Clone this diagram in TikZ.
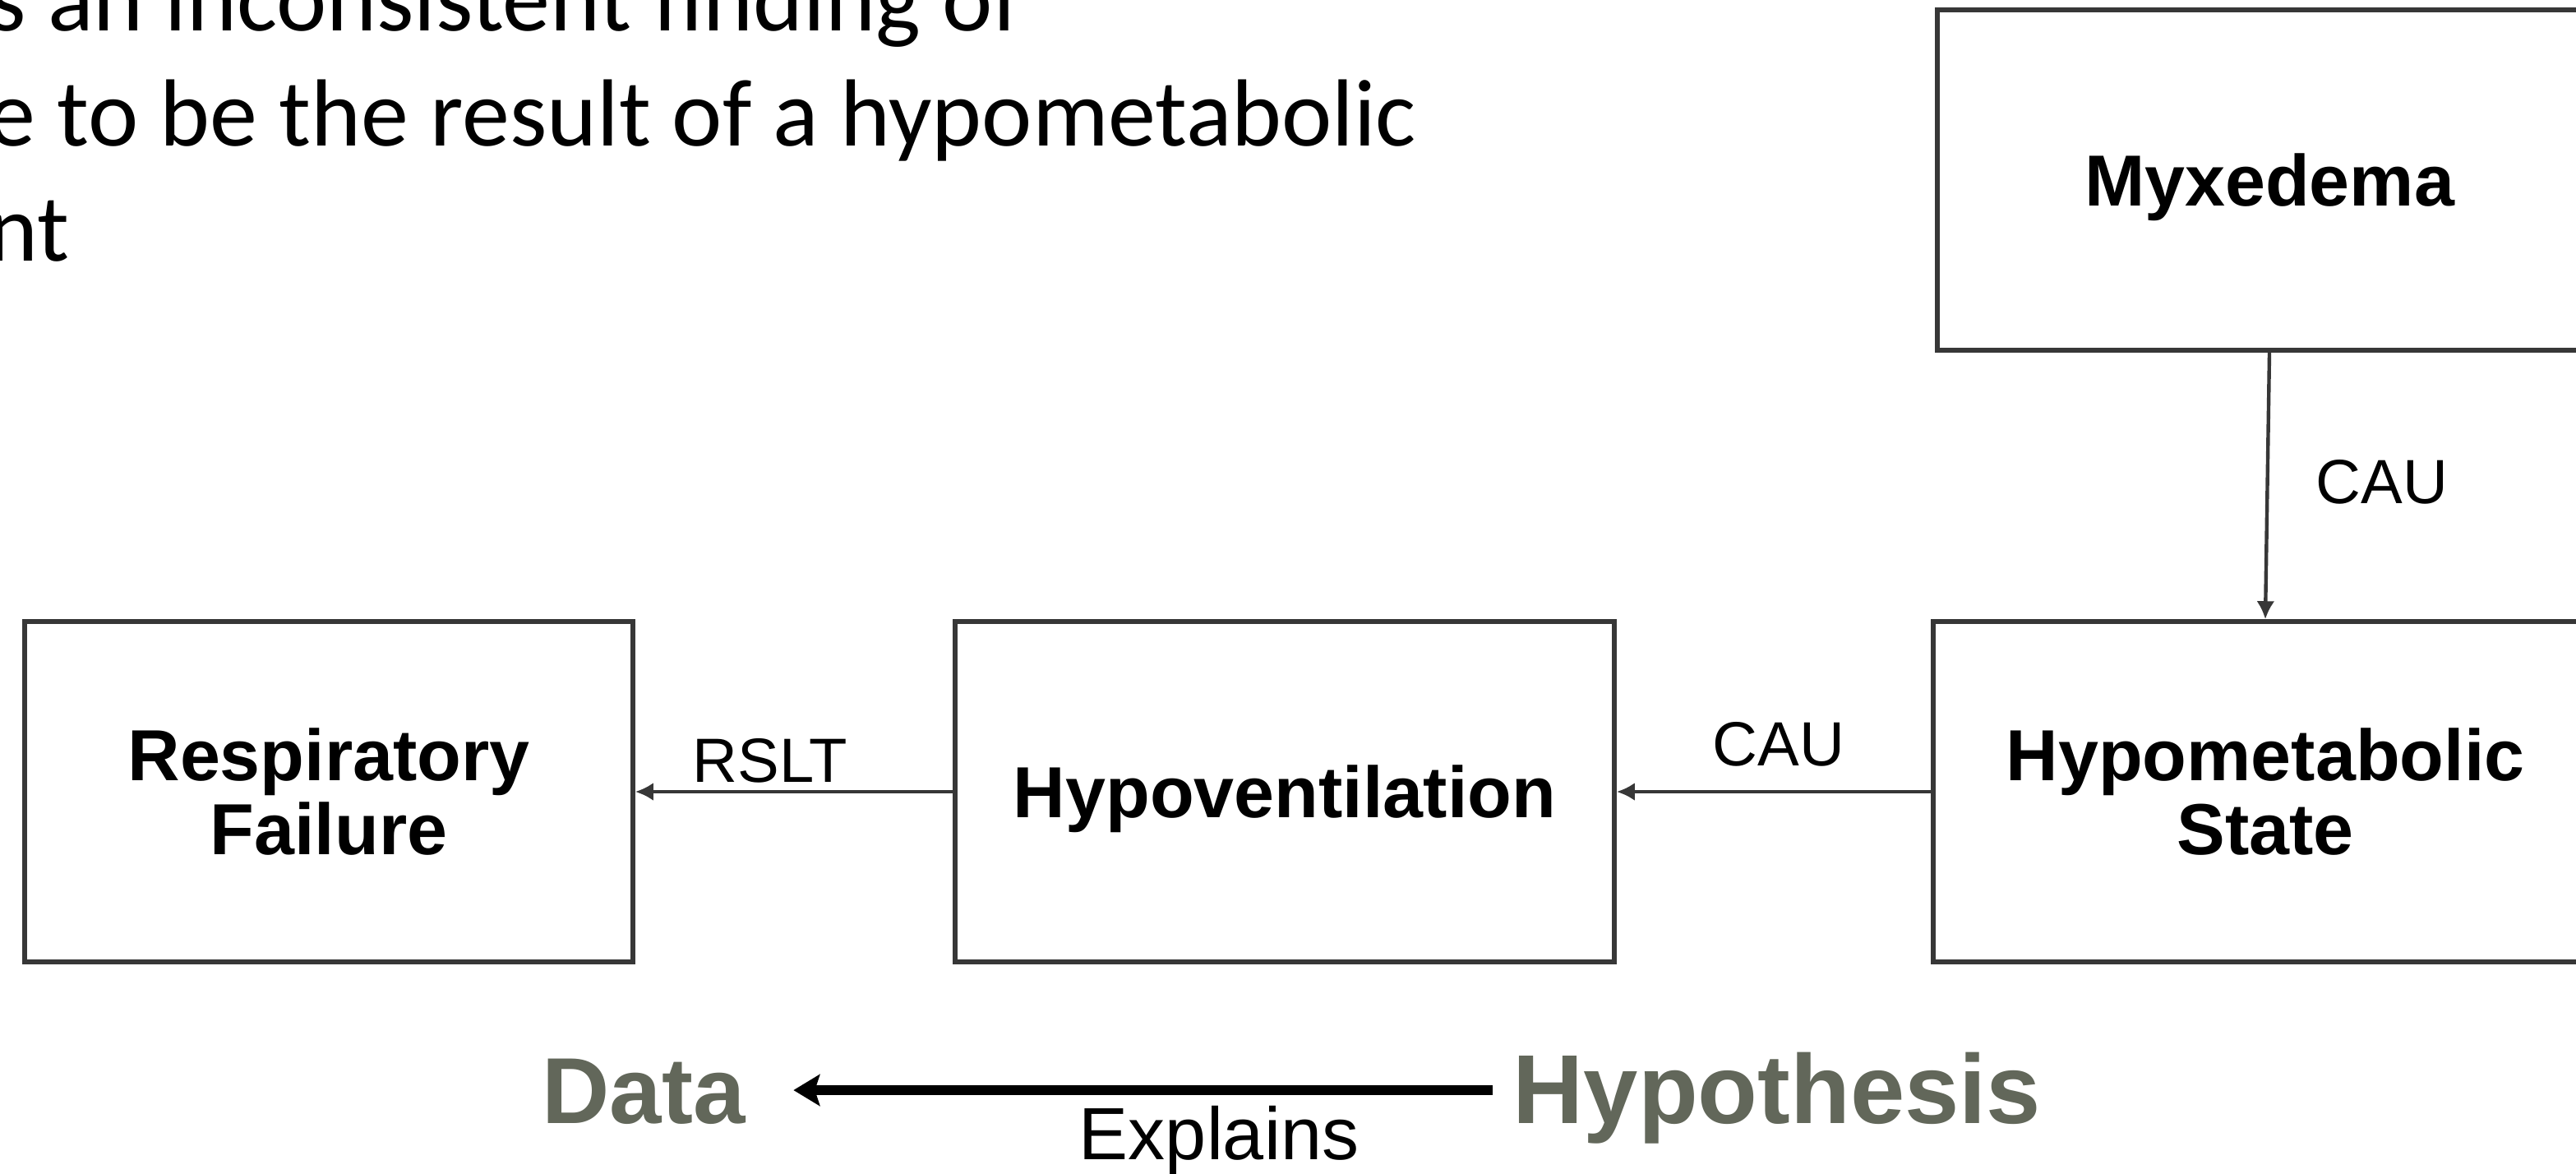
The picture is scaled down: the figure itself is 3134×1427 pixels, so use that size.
\documentclass[tikz,border=0pt]{standalone}
\usepackage{fontspec}
\setmainfont{Liberation Sans}
\newfontfamily\slidefont{Carlito}
\usetikzlibrary{arrows.meta,calc}

\definecolor{boxline}{RGB}{55,55,55}
\definecolor{legendgray}{RGB}{98,103,90}

\begin{document}
\begin{tikzpicture}[x=0.25pt,y=-0.25pt,
  box/.style={draw=boxline, line width=1.4pt, minimum height=103.5pt, inner sep=0pt,
    align=center, font=\fontsize{22}{22.3}\selectfont\bfseries},
  link/.style={draw=boxline, line width=1.1pt, -{Latex[length=5.5pt,width=5.5pt]}},
  lbl/.style={inner sep=0pt, font=\fontsize{19}{20}\selectfont},
  slide/.style={inner sep=0pt, anchor=base east, font=\slidefont\fontsize{29}{35}\selectfont},
  legendword/.style={inner sep=0pt, anchor=base, text=legendgray, font=\bfseries}
]
\useasboundingbox (0,0) rectangle (3134,1427);
\clip (0,0) rectangle (3134,1427);

% slide text running in from the left
\node[slide] (l1) at (1244,37)  {s an inconsistent finding of};
\node[slide] (l2) at (1724,177) {e to be the result of a hypometabolic};
\node[slide] (l3) at (85,317)   {nt};

% concept boxes
\node[box, minimum width=185pt]   (rf) at (400,963)  {Respiratory\\Failure};
\node[box, minimum width=200.5pt, text depth=0pt] (hv) at (1563,963) {Hypoventilation};
\node[box, minimum width=202pt]   (hm) at (2756,963) {Hypometabolic\\State};
\node[box, minimum width=202pt, text depth=0pt] (mx) at (2761,219) {Myxedema};

% causal links
\draw[link] (hv.west) -- (rf.east);
\draw[link] (hm.west) -- (hv.east);
\draw[link] (mx.south) -- (hm.north);

% link labels
\node[lbl] (rslt) at (937,925)  {RSLT};
\node[lbl] (cau1) at (2164,905) {CAU};
\node[lbl] (cau2) at (2898,586) {CAU};

% legend
\node[legendword, font=\fontsize{28.5}{30}\selectfont\bfseries] (data) at (783,1366)  {Data};
\node[legendword, font=\fontsize{29.8}{31}\selectfont\bfseries] (hyp)  at (2162,1366) {Hypothesis};
\node[inner sep=0pt, anchor=base, font=\fontsize{22.5}{24}\selectfont] (expl) at (1483,1410) {Explains};
\draw[line width=3pt, -{Stealth[length=8pt,width=9.5pt,inset=1.5pt]}]
  ($(hyp.base west)+(-24,-40)$) -- ($(data.base east)+(58,-40)$);
\end{tikzpicture}
\end{document}
